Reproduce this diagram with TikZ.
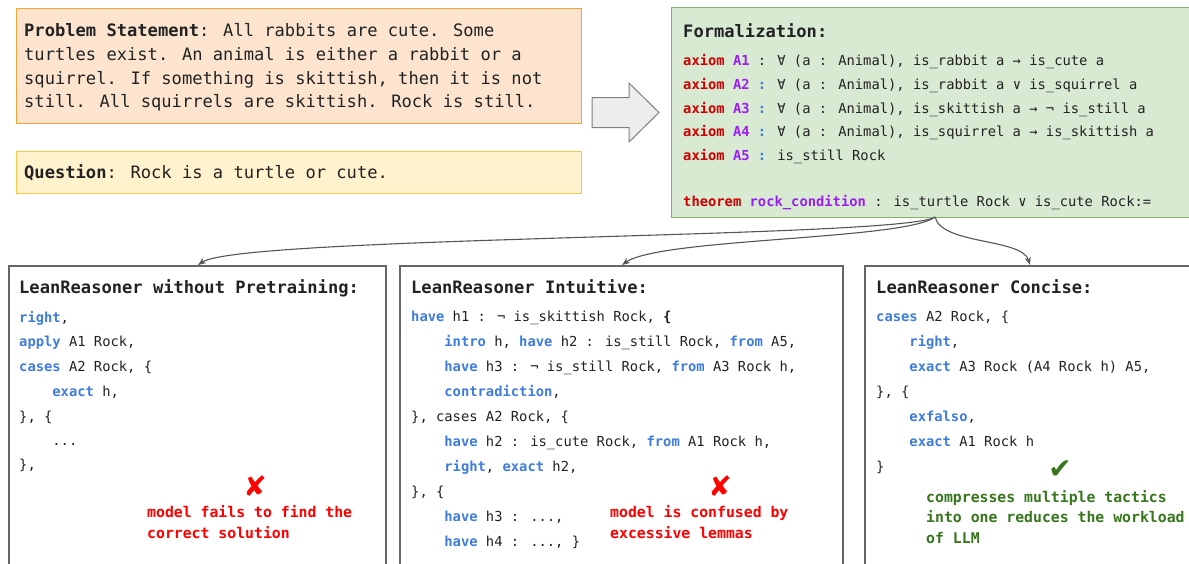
\documentclass[tikz,border=0pt]{standalone}
\usepackage{fontspec}
\usetikzlibrary{arrows.meta}
\newfontfamily\monof{DejaVu Sans Mono}
\newfontfamily\symf{DejaVu Sans}
\definecolor{orfill}{HTML}{FCE4CF}
\definecolor{ordraw}{HTML}{F6A43A}
\definecolor{yefill}{HTML}{FFF2CC}
\definecolor{yedraw}{HTML}{F5C84C}
\definecolor{grfill}{HTML}{D9EAD3}
\definecolor{grdraw}{HTML}{82B366}
\definecolor{kwred}{HTML}{CC0000}
\definecolor{kwpur}{HTML}{9A1EF0}
\definecolor{kwblue}{HTML}{3F7CDB}
\definecolor{txt}{HTML}{222222}
\definecolor{cmred}{HTML}{FF0000}
\definecolor{cmgreen}{HTML}{38761D}
\definecolor{boxgray}{HTML}{666666}
\definecolor{conngray}{HTML}{555555}
\newcommand\kr[1]{{\bfseries\color{kwred}#1}}
\newcommand\kp[1]{{\bfseries\color{kwpur}#1}}
\newcommand\kb[1]{{\bfseries\color{kwblue}#1}}
\newcommand\ind{\hphantom{0000}}
\tikzset{
  panel/.style={anchor=north west, inner sep=0, line width=1.3pt},
  probbox/.style={panel, fill=orfill, draw=ordraw},
  quesbox/.style={panel, fill=yefill, draw=yedraw},
  formbox/.style={panel, fill=grfill, draw=grdraw},
  leanbox/.style={panel, fill=white, draw=boxgray, line width=1.6pt},
  bigtxt/.style={anchor=base west, inner sep=0, text=txt, font=\fontsize{17.1}{20}\selectfont\monof},
  code/.style={anchor=base west, inner sep=0, text=txt, font=\fontsize{13.8}{16}\selectfont\monof},
  note/.style={anchor=base west, inner sep=0, font=\fontsize{14.8}{17}\selectfont\monof\bfseries},
  verdict/.style={inner sep=0, font=\fontsize{28}{30}\selectfont\symf},
  conn/.style={draw=conngray, line width=1.1pt, -{Stealth[length=8pt,width=6pt]}},
  blockarrow/.style={fill=black!7, draw=black!50, line width=1pt}
}
\begin{document}
\begin{tikzpicture}[x=1pt,y=-1pt]
\useasboundingbox (0,0) rectangle (1189,563);
% panels
\node[probbox, minimum width=565pt, minimum height=115pt] (prob) at (16,8) {};
\node[quesbox, minimum width=565pt, minimum height=42pt] (ques) at (16,151) {};
\node[formbox, minimum width=540pt, minimum height=210pt] (form) at (671,7) {};
\node[leanbox, minimum width=377pt, minimum height=320pt] (b1) at (8,265) {};
\node[leanbox, minimum width=443pt, minimum height=320pt] (b2) at (399,265) {};
\node[leanbox, minimum width=340pt, minimum height=320pt] (b3) at (864,265) {};
% block arrow
\draw[blockarrow] (592,97.5) -- (629,97.5) -- (629,83) -- (659,112.5) -- (629,142) -- (629,127.5) -- (592,127.5) -- cycle;
% problem statement
\node[bigtxt] (p1) at (24,36) {{\bfseries Problem Statement}: All rabbits are cute. Some};
\node[bigtxt] (p2) at (24,60) {turtles exist. An animal is either a rabbit or a};
\node[bigtxt] (p3) at (24,84) {squirrel. If something is skittish, then it is not};
\node[bigtxt] (p4) at (24,107) {still. All squirrels are skittish. Rock is still.};
\node[bigtxt] (q1) at (24,178) {{\bfseries Question}: Rock is a turtle or cute.};
% formalization
\node[bigtxt] (f0) at (683,37) {\bfseries Formalization:};
\node[code] (f1) at (683,65) {\kr{axiom} \kp{A1} : ∀ (a : Animal), is\_rabbit a → is\_cute a};
\node[code] (f2) at (683,89) {\kr{axiom} \kp{A2} \kb{:} ∀ (a : Animal), is\_rabbit a ∨ is\_squirrel a};
\node[code] (f3) at (683,113) {\kr{axiom} \kp{A3} \kb{:} ∀ (a : Animal), is\_skittish a → ¬ is\_still a};
\node[code] (f4) at (683,136) {\kr{axiom} \kp{A4} \kb{:} ∀ (a : Animal), is\_squirrel a → is\_skittish a};
\node[code] (f5) at (683,160) {\kr{axiom} \kp{A5} \kb{:} is\_still Rock};
\node[code] (f6) at (683,206) {\kr{theorem} \kp{rock\_condition} : is\_turtle Rock ∨ is\_cute Rock:=};
% box 1
\node[bigtxt] (t1) at (19,293) {\bfseries LeanReasoner without Pretraining:};
\node[code] (a1) at (19,322) {\kb{right},};
\node[code] (a2) at (19,346) {\kb{apply} A1 Rock,};
\node[code] (a3) at (19,371) {\kb{cases} A2 Rock, \{};
\node[code] (a4) at (19,396) {\ind\kb{exact} h,};
\node[code] (a5) at (19,421) {\}, \{};
\node[code] (a6) at (19,445) {\ind...};
\node[code] (a7) at (19,469) {\},};
\node[verdict, text=cmred] (x1) at (255,486) {✘};
\node[note, text=cmred] (n1) at (147,517) {model fails to find the};
\node[note, text=cmred] (n2) at (147,538) {correct solution};
% box 2
\node[bigtxt] (t2) at (411,293) {\bfseries LeanReasoner Intuitive:};
\node[code] (c1) at (411,321) {\kb{have} h1 : ¬ is\_skittish Rock, {\bfseries\{}};
\node[code] (c2) at (411,346) {\ind\kb{intro} h, \kb{have} h2 : is\_still Rock, \kb{from} A5,};
\node[code] (c3) at (411,371) {\ind\kb{have} h3 : ¬ is\_still Rock, \kb{from} A3 Rock h,};
\node[code] (c4) at (411,396) {\ind\kb{contradiction},};
\node[code] (c5) at (411,421) {\}, cases A2 Rock, \{};
\node[code] (c6) at (411,446) {\ind\kb{have} h2 : is\_cute Rock, \kb{from} A1 Rock h,};
\node[code] (c7) at (411,471) {\ind\kb{right}, \kb{exact} h2,};
\node[code] (c8) at (411,496) {\}, \{};
\node[code] (c9) at (411,521) {\ind\kb{have} h3 : ...,};
\node[code] (c10) at (411,546) {\ind\kb{have} h4 : ..., \}};
\node[verdict, text=cmred] (x2) at (720,486) {✘};
\node[note, text=cmred] (n3) at (610,517) {model is confused by};
\node[note, text=cmred] (n4) at (610,538) {excessive lemmas};
% box 3
\node[bigtxt] (t3) at (876,293) {\bfseries LeanReasoner Concise:};
\node[code] (d1) at (876,321) {\kb{cases} A2 Rock, \{};
\node[code] (d2) at (876,346) {\ind\kb{right},};
\node[code] (d3) at (876,371) {\ind\kb{exact} A3 Rock (A4 Rock h) A5,};
\node[code] (d4) at (876,396) {\}, \{};
\node[code] (d5) at (876,421) {\ind\kb{exfalso},};
\node[code] (d6) at (876,446) {\ind\kb{exact} A1 Rock h};
\node[code] (d7) at (876,471) {\}};
\node[verdict, text=cmgreen] (v3) at (1060,470) {✔};
\node[note, text=cmgreen] (n5) at (926,502) {compresses multiple tactics};
\node[note, text=cmgreen] (n6) at (926,522) {into one reduces the workload};
\node[note, text=cmgreen] (n7) at (926,543) {of LLM};
% connectors
\coordinate (src) at (935,217);
\coordinate (in1) at (198,265);
\coordinate (in2) at (622,265);
\coordinate (in3) at (1030,265);
\draw[conn] (src) .. controls (905,238) and (240,236) .. (in1);
\draw[conn] (src) .. controls (905,240) and (660,238) .. (in2);
\draw[conn] (src) .. controls (942,245) and (1022,238) .. (in3);
\end{tikzpicture}
\end{document}
